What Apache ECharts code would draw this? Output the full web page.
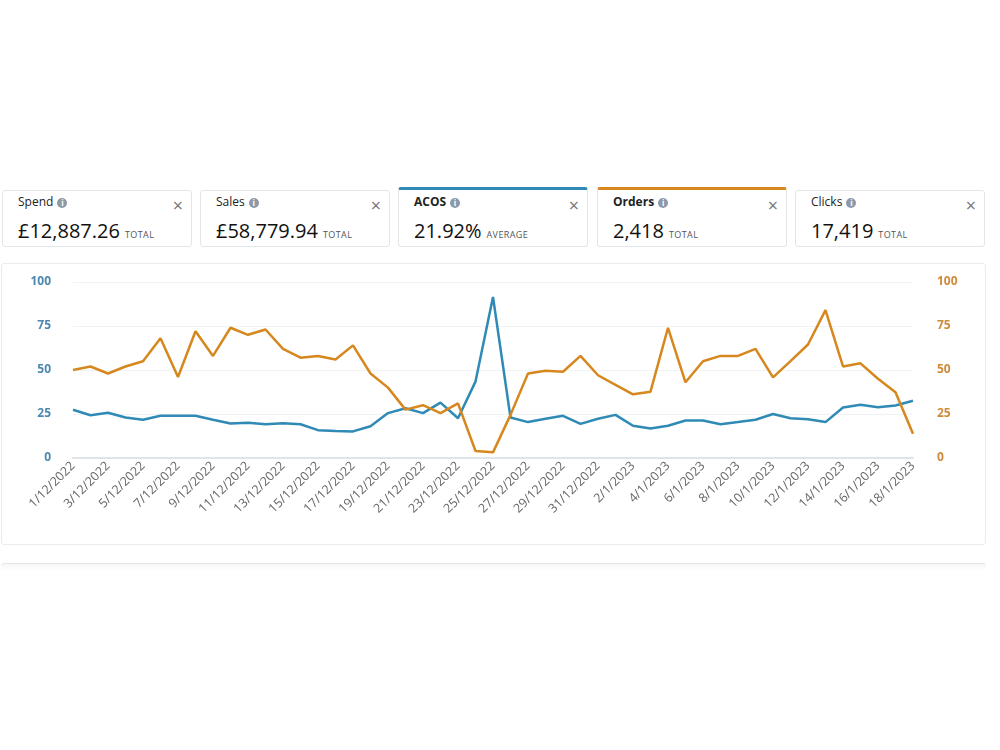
<!DOCTYPE html>
<html>
<head>
<meta charset="utf-8">
<script src="https://cdn.jsdelivr.net/npm/echarts@6/dist/echarts.min.js"></script>
<style>
    body { margin: 0; background: #fff; font-family: "Open Sans", sans-serif; }
    .wrap { position: relative; width: 1000px; height: 750px; overflow: hidden; }
    .card {
        position: absolute; top: 190px; height: 57px; width: 190px;
        border: 1px solid #e3e6e9; border-radius: 3px; box-sizing: border-box; background: #fff;
    }
    .card.sel-blue { border-top: 3px solid #2f8ab5; top: 187px; height: 60px; }
    .card.sel-orange { border-top: 3px solid #d6871d; top: 187px; height: 60px; }
    .card .title { position: absolute; left: 15px; top: 2px; font-size: 12px; color: #222; }
    .card.sel-blue .title, .card.sel-orange .title { font-weight: bold; top: 3px; }
    .card .title i {
        display: inline-block; width: 10px; height: 10px; border-radius: 50%; background: #8d99a6;
        color: #fff; font-size: 8px; line-height: 10px; text-align: center; font-style: normal;
        font-weight: bold; margin-left: 4px; vertical-align: 0px;
    }
    .card .close { position: absolute; right: 8px; top: 2px; font-size: 18px; color: #777; }
    .card.sel-blue .close, .card.sel-orange .close { top: 3px; }
    .card .val { position: absolute; left: 15px; top: 26px; font-size: 20px; color: #111; }
    .card.sel-blue .val, .card.sel-orange .val { top: 27px; }
    .card .val small { font-size: 9px; color: #555; margin-left: 5px; letter-spacing: 0.4px; }
    .panel {
        position: absolute; left: 1px; top: 263px; width: 985px; height: 282px;
        border: 1px solid #ebebeb; border-radius: 3px; box-sizing: border-box;
    }
    .panel2 {
        position: absolute; left: 1px; top: 563px; width: 985px; height: 8px;
        border-top: 1px solid #e6e6e6; border-radius: 3px 3px 0 0; box-sizing: border-box;
        background: linear-gradient(#f6f6f6, #fff);
    }
    #chart { position: absolute; left: 2px; top: 263px; width: 984px; height: 282px; }
</style>
</head>
<body>
<div class="wrap">
    <div class="card" style="left:2px"><div class="title">Spend<i>i</i></div><div class="close">×</div><div class="val">£12,887.26<small>TOTAL</small></div></div>
    <div class="card" style="left:200px"><div class="title">Sales<i>i</i></div><div class="close">×</div><div class="val">£58,779.94<small>TOTAL</small></div></div>
    <div class="card sel-blue" style="left:398px"><div class="title">ACOS<i>i</i></div><div class="close">×</div><div class="val">21.92%<small>AVERAGE</small></div></div>
    <div class="card sel-orange" style="left:597px"><div class="title">Orders<i>i</i></div><div class="close">×</div><div class="val">2,418<small>TOTAL</small></div></div>
    <div class="card" style="left:795px"><div class="title">Clicks<i>i</i></div><div class="close">×</div><div class="val">17,419<small>TOTAL</small></div></div>
    <div class="panel"></div>
    <div class="panel2"></div>
    <div id="chart"></div>
</div>
<script>
// 日期 1/12/2022 - 18/1/2023
var dates = [
    '1/12/2022', '2/12/2022', '3/12/2022', '4/12/2022', '5/12/2022', '6/12/2022', '7/12/2022',
    '8/12/2022', '9/12/2022', '10/12/2022', '11/12/2022', '12/12/2022', '13/12/2022', '14/12/2022',
    '15/12/2022', '16/12/2022', '17/12/2022', '18/12/2022', '19/12/2022', '20/12/2022', '21/12/2022',
    '22/12/2022', '23/12/2022', '24/12/2022', '25/12/2022', '26/12/2022', '27/12/2022', '28/12/2022',
    '29/12/2022', '30/12/2022', '31/12/2022', '1/1/2023', '2/1/2023', '3/1/2023', '4/1/2023',
    '5/1/2023', '6/1/2023', '7/1/2023', '8/1/2023', '9/1/2023', '10/1/2023', '11/1/2023',
    '12/1/2023', '13/1/2023', '14/1/2023', '15/1/2023', '16/1/2023', '17/1/2023', '18/1/2023'
];
var acos = [
    27.4, 24.3, 25.7, 23, 21.7, 24, 24, 24, 21.7, 19.6, 20, 19.2, 19.8,
    19.2, 15.8, 15.3, 15.1, 18, 25.5, 28.3, 25.5, 31.5, 22.6, 43.4, 91.5,
    23, 20.4, 22.3, 24, 19.4, 22.3, 24.5, 18.3, 16.8, 18.3, 21.3, 21.3,
    19.2, 20.4, 21.7, 25, 22.6, 22, 20.4, 28.7, 30.2, 28.9, 29.8, 32.5
];
var orders = [
    50, 52, 48, 52, 55, 68, 46, 72, 58, 74, 70, 73, 62,
    57, 58, 56, 64, 48, 40, 27.5, 30, 25.5, 31, 4, 3.2,
    24.5, 48, 49.6, 49, 58, 47, 41.5, 36.2, 37.7, 74, 43, 55,
    58, 58, 62, 45.8, 55, 64.5, 84, 52, 53.8, 45, 37.4, 13.8
];
var yTicks = [0, 25, 50, 75, 100];

(function () {
    var myChart = echarts.init(document.getElementById('chart'));
    var option = {
        animation: false,
        color: ['#2f8ab5', '#d6871d'],
        grid: { left: 71, right: 73, top: 19, bottom: 87 },
        xAxis: {
            type: 'category',
            boundaryGap: false,
            data: dates,
            axisTick: { show: false },
            axisLine: { lineStyle: { color: '#dfe4ea', width: 2 } },
            axisLabel: {
                interval: 1,
                rotate: 45,
                color: '#666',
                fontSize: 12.5,
                margin: 6,
                fontFamily: 'Open Sans'
            }
        },
        yAxis: [{
            type: 'value',
            min: yTicks[0],
            max: yTicks[yTicks.length - 1],
            interval: 25,
            axisLine: { show: false },
            axisTick: { show: false },
            axisLabel: { color: '#4d87b0', fontSize: 12, fontWeight: 'bold', margin: 22, fontFamily: 'Open Sans' },
            splitLine: { lineStyle: { color: '#f1f2f4' } }
        }, {
            type: 'value',
            min: yTicks[0],
            max: yTicks[yTicks.length - 1],
            interval: 25,
            axisLine: { show: false },
            axisTick: { show: false },
            axisLabel: { color: '#cf8a3c', fontSize: 12, fontWeight: 'bold', margin: 24, fontFamily: 'Open Sans' },
            splitLine: { show: false }
        }],
        series: [{
            name: 'ACOS',
            type: 'line',
            yAxisIndex: 0,
            data: acos,
            symbol: 'none',
            lineStyle: { width: 2.5 }
        }, {
            name: 'Orders',
            type: 'line',
            yAxisIndex: 1,
            data: orders,
            symbol: 'none',
            lineStyle: { width: 2.5 }
        }]
    };
    myChart.setOption(option);
})();
</script>
</body>
</html>
